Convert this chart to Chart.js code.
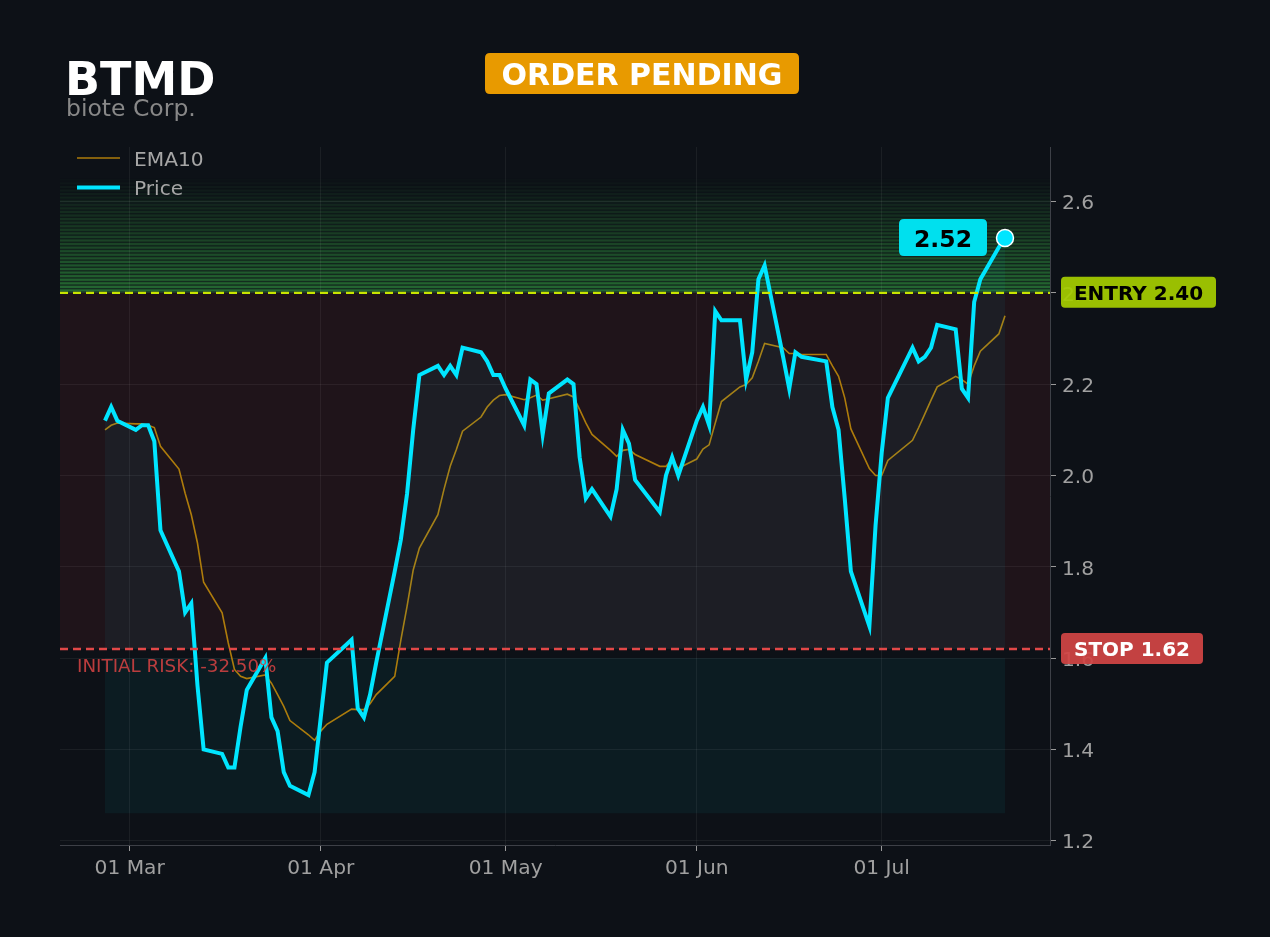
<!DOCTYPE html>
<html>

<head>
  <title>BTMD Setup</title>
  <script src="https://cdn.jsdelivr.net/npm/chart.js"></script>
  <style>
    body { margin: 0; background: #0d1117; }
    #box { width: 1270px; height: 937px; }
  </style>
</head>

<body>
  <div id="box"><canvas id="setupChart" width="1270" height="937"></canvas></div>

  <script>
    // trading days, 2026
    const dates = [
      '2026-02-25', '2026-02-26', '2026-02-27',
      '2026-03-02', '2026-03-03', '2026-03-04', '2026-03-05', '2026-03-06',
      '2026-03-09', '2026-03-10', '2026-03-11', '2026-03-12', '2026-03-13',
      '2026-03-16', '2026-03-17', '2026-03-18', '2026-03-19', '2026-03-20',
      '2026-03-23', '2026-03-24', '2026-03-25', '2026-03-26', '2026-03-27',
      '2026-03-30', '2026-03-31', '2026-04-01', '2026-04-02',
      '2026-04-06', '2026-04-07', '2026-04-08', '2026-04-09', '2026-04-10',
      '2026-04-13', '2026-04-14', '2026-04-15', '2026-04-16', '2026-04-17',
      '2026-04-20', '2026-04-21', '2026-04-22', '2026-04-23', '2026-04-24',
      '2026-04-27', '2026-04-28', '2026-04-29', '2026-04-30', '2026-05-01',
      '2026-05-04', '2026-05-05', '2026-05-06', '2026-05-07', '2026-05-08',
      '2026-05-11', '2026-05-12', '2026-05-13', '2026-05-14', '2026-05-15',
      '2026-05-18', '2026-05-19', '2026-05-20', '2026-05-21', '2026-05-22',
      '2026-05-26', '2026-05-27', '2026-05-28', '2026-05-29',
      '2026-06-01', '2026-06-02', '2026-06-03', '2026-06-04', '2026-06-05',
      '2026-06-08', '2026-06-09', '2026-06-10', '2026-06-11', '2026-06-12',
      '2026-06-15', '2026-06-16', '2026-06-17', '2026-06-18',
      '2026-06-22', '2026-06-23', '2026-06-24', '2026-06-25', '2026-06-26',
      '2026-06-29', '2026-06-30', '2026-07-01', '2026-07-02',
      '2026-07-06', '2026-07-07', '2026-07-08', '2026-07-09', '2026-07-10',
      '2026-07-13', '2026-07-14', '2026-07-15', '2026-07-16', '2026-07-17',
      '2026-07-20', '2026-07-21'
    ];

    const price = [
      2.12, 2.15, 2.12,
      2.10, 2.11, 2.11, 2.075, 1.88,
      1.79, 1.70, 1.72, 1.54, 1.40,
      1.39, 1.36, 1.36, 1.45, 1.53,
      1.60, 1.47, 1.44, 1.35, 1.32,
      1.30, 1.35, 1.47, 1.59,
      1.64, 1.49, 1.47, 1.52, 1.59,
      1.79, 1.86, 1.96, 2.10, 2.22,
      2.24, 2.22, 2.24, 2.22, 2.28,
      2.27, 2.25, 2.22, 2.22, 2.19,
      2.11, 2.21, 2.20, 2.09, 2.18,
      2.21, 2.20, 2.04, 1.95, 1.97,
      1.91, 1.97, 2.10, 2.07, 1.99,
      1.92, 2.00, 2.04, 2.00,
      2.12, 2.15, 2.11, 2.36, 2.34,
      2.34, 2.21, 2.27, 2.43, 2.46,
      2.26, 2.19, 2.27, 2.26,
      2.25, 2.15, 2.10, 1.95, 1.79,
      1.67, 1.89, 2.05, 2.17,
      2.28, 2.25, 2.26, 2.28, 2.33,
      2.32, 2.19, 2.17, 2.38, 2.43,
      2.50, 2.52
    ];

    const ema10 = [
      2.10, 2.11, 2.115,
      2.113, 2.113, 2.11, 2.105, 2.064,
      2.014, 1.961, 1.914, 1.852, 1.766,
      1.699, 1.633, 1.575, 1.56, 1.555,
      1.563, 1.545, 1.52, 1.494, 1.463,
      1.432, 1.42, 1.44, 1.455,
      1.488, 1.487, 1.487, 1.50, 1.52,
      1.56, 1.64, 1.713, 1.793, 1.841,
      1.914, 1.97, 2.02, 2.057, 2.097,
      2.128, 2.15, 2.165, 2.175, 2.177,
      2.166, 2.17, 2.176, 2.165, 2.168,
      2.178, 2.172, 2.144, 2.115, 2.09,
      2.055, 2.042, 2.055, 2.057, 2.046,
      2.02, 2.02, 2.035, 2.016,
      2.036, 2.058, 2.067, 2.115, 2.162,
      2.194, 2.199, 2.214, 2.25, 2.289,
      2.28, 2.267, 2.267, 2.265,
      2.265, 2.24, 2.217, 2.17, 2.102,
      2.015, 2.00, 2.00, 2.033,
      2.077, 2.105, 2.135, 2.165, 2.194,
      2.217, 2.21, 2.20, 2.24, 2.272,
      2.31, 2.35
    ];

    const monthTicks = ['2026-03-01', '2026-04-01', '2026-05-01', '2026-06-01', '2026-07-01'];
    const monthLabels = ['01 Mar', '01 Apr', '01 May', '01 Jun', '01 Jul'];
    const yTicks = [1.2, 1.4, 1.6, 1.8, 2.0, 2.2, 2.4, 2.6];

    const ENTRY = 2.40;
    const STOP = 1.62;
    const TARGET_TOP = 2.65;   // top of the green gradient
    const FLOOR = 1.26;        // bottom of the shaded boxes
    const RISK_TOP = 1.60;     // top of the teal box under the stop

    const BG = '#0d1117';
    const CYAN = '#00e5ff';
    const EMA_COLOR = 'rgba(190,135,10,0.9)';
    const FONT = '"DejaVu Sans", sans-serif';

    function dayNumber(s) {
      const p = s.split('-').map(Number);
      return (Date.UTC(p[0], p[1] - 1, p[2]) - Date.UTC(2026, 0, 1)) / 86400000;
    }

    const days = dates.map(dayNumber);
    const monthDays = monthTicks.map(dayNumber);
    const xPad = (days[days.length - 1] - days[0]) * 0.05;
    const yPad = (TARGET_TOP - FLOOR) * 0.05;

    function roundBox(ctx, x, y, w, h, r) {
      ctx.beginPath();
      ctx.moveTo(x + r, y);
      ctx.lineTo(x + w - r, y);
      ctx.quadraticCurveTo(x + w, y, x + w, y + r);
      ctx.lineTo(x + w, y + h - r);
      ctx.quadraticCurveTo(x + w, y + h, x + w - r, y + h);
      ctx.lineTo(x + r, y + h);
      ctx.quadraticCurveTo(x, y + h, x, y + h - r);
      ctx.lineTo(x, y + r);
      ctx.quadraticCurveTo(x, y, x + r, y);
      ctx.closePath();
    }

    const zones = {
      id: 'zones',
      beforeDraw(chart) {
        const ctx = chart.ctx;
        const { left, right } = chart.chartArea;
        const y = chart.scales.y, x = chart.scales.x;
        ctx.save();
        ctx.fillStyle = BG;
        ctx.fillRect(0, 0, chart.width, chart.height);

        // risk zone between stop and entry
        ctx.fillStyle = 'rgba(220,53,69,0.09)';
        ctx.fillRect(left, y.getPixelForValue(ENTRY), right - left,
          y.getPixelForValue(STOP) - y.getPixelForValue(ENTRY));

        // green gradient above entry
        const n = 32;
        const step = (TARGET_TOP - ENTRY) / n;
        for (let i = 0; i < n; i++) {
          const p0 = y.getPixelForValue(ENTRY + i * step);
          const p1 = y.getPixelForValue(ENTRY + (i + 1) * step);
          const k = 1 - i / n;
          ctx.fillStyle = `rgba(60,185,75,${0.52 * k})`;
          ctx.fillRect(left, p1, right - left, p0 - p1 - 1.3);
          ctx.fillStyle = `rgba(60,185,75,${0.18 * k})`;
          ctx.fillRect(left, p0 - 1.3, right - left, 1.3);
        }

        // teal box under the stop
        const bx0 = x.getPixelForValue(days[0]);
        const bx1 = x.getPixelForValue(days[days.length - 1]);
        ctx.fillStyle = 'rgba(0,229,255,0.05)';
        ctx.fillRect(bx0, y.getPixelForValue(RISK_TOP), bx1 - bx0,
          y.getPixelForValue(FLOOR) - y.getPixelForValue(RISK_TOP));
        ctx.restore();
      },
      afterDatasetsDraw(chart) {
        const ctx = chart.ctx;
        const { left, right } = chart.chartArea;
        const y = chart.scales.y;
        ctx.save();
        ctx.lineWidth = 2.4;
        ctx.setLineDash([8, 5]);
        ctx.strokeStyle = '#c8e600';
        ctx.beginPath();
        ctx.moveTo(left, y.getPixelForValue(ENTRY));
        ctx.lineTo(right, y.getPixelForValue(ENTRY));
        ctx.stroke();
        ctx.strokeStyle = '#e24848';
        ctx.beginPath();
        ctx.moveTo(left, y.getPixelForValue(STOP));
        ctx.lineTo(right, y.getPixelForValue(STOP));
        ctx.stroke();
        ctx.restore();
      },
      afterDraw(chart) {
        const ctx = chart.ctx;
        const { left, right } = chart.chartArea;
        const y = chart.scales.y, x = chart.scales.x;
        ctx.save();
        ctx.textBaseline = 'alphabetic';

        // header
        ctx.fillStyle = '#ffffff';
        ctx.font = 'bold 46px ' + FONT;
        ctx.textAlign = 'left';
        ctx.fillText('BTMD', 65, 95);
        ctx.fillStyle = '#888888';
        ctx.font = '23.5px ' + FONT;
        ctx.fillText('biote Corp.', 66, 116);

        // status badge
        ctx.fillStyle = '#e89a00';
        roundBox(ctx, 485, 53, 314, 41, 5);
        ctx.fill();
        ctx.fillStyle = '#ffffff';
        ctx.font = 'bold 30px ' + FONT;
        ctx.textAlign = 'center';
        ctx.fillText('ORDER PENDING', 642, 84.5);

        // legend
        ctx.textAlign = 'left';
        ctx.font = '20.2px ' + FONT;
        ctx.strokeStyle = EMA_COLOR;
        ctx.lineWidth = 1.5;
        ctx.beginPath();
        ctx.moveTo(left + 17, 158);
        ctx.lineTo(left + 60, 158);
        ctx.stroke();
        ctx.strokeStyle = CYAN;
        ctx.lineWidth = 4;
        ctx.beginPath();
        ctx.moveTo(left + 17, 187.5);
        ctx.lineTo(left + 60, 187.5);
        ctx.stroke();
        ctx.fillStyle = '#a6a6a6';
        ctx.fillText('EMA10', left + 74, 165.5);
        ctx.fillText('Price', left + 74, 194.5);

        // initial risk note
        const risk = (STOP - ENTRY) / ENTRY * 100;
        ctx.fillStyle = 'rgba(205,65,65,0.9)';
        ctx.font = '18.3px ' + FONT;
        ctx.fillText('INITIAL RISK: ' + risk.toFixed(2) + '%', left + 17, y.getPixelForValue(STOP) + 23);

        // entry / stop tags on the axis
        const ey = y.getPixelForValue(ENTRY);
        ctx.globalAlpha = 0.93;
        ctx.fillStyle = '#a6cc00';
        roundBox(ctx, right + 11, ey - 16, 155, 31, 4);
        ctx.fill();
        const sy = y.getPixelForValue(STOP);
        ctx.fillStyle = '#d24545';
        roundBox(ctx, right + 11, sy - 16, 142, 31, 4);
        ctx.fill();
        ctx.globalAlpha = 1;
        ctx.font = 'bold 20px ' + FONT;
        ctx.textAlign = 'center';
        ctx.fillStyle = '#000000';
        ctx.fillText('ENTRY ' + ENTRY.toFixed(2), right + 88.5, ey + 7);
        ctx.fillStyle = '#ffffff';
        ctx.fillText('STOP ' + STOP.toFixed(2), right + 82, sy + 7);

        // last price tag
        const last = price.length - 1;
        const px = x.getPixelForValue(days[last]);
        const py = y.getPixelForValue(price[last]);
        ctx.fillStyle = '#00e0ee';
        roundBox(ctx, px - 106, py - 19, 88, 37, 5);
        ctx.fill();
        ctx.fillStyle = '#000000';
        ctx.font = 'bold 23.5px ' + FONT;
        ctx.fillText(price[last].toFixed(2), px - 62, py + 8.5);
        ctx.restore();
      }
    };

    const ctx = document.getElementById('setupChart').getContext('2d');
    new Chart(ctx, {
      type: 'line',
      data: {
        datasets: [
          {
            label: 'Price',
            data: days.map((d, i) => ({ x: d, y: price[i] })),
            borderColor: CYAN,
            borderWidth: 4,
            tension: 0,
            order: 0,
            fill: { target: { value: STOP }, above: 'rgba(0,229,255,0.05)', below: 'rgba(0,0,0,0)' },
            pointRadius: c => (c.dataIndex === price.length - 1 ? 8.5 : 0),
            pointBackgroundColor: CYAN,
            pointBorderColor: '#ffffff',
            pointBorderWidth: 1.5
          },
          {
            label: 'EMA10',
            data: days.map((d, i) => ({ x: d, y: ema10[i] })),
            borderColor: EMA_COLOR,
            borderWidth: 1.6,
            tension: 0,
            order: 1,
            fill: false,
            pointRadius: 0
          }
        ]
      },
      options: {
        responsive: false,
        animation: false,
        events: [],
        layout: { padding: { left: 60, top: 147, right: 0, bottom: 0 } },
        plugins: { legend: { display: false }, tooltip: { enabled: false } },
        scales: {
          x: {
            type: 'linear',
            bounds: 'data',
            min: days[0] - xPad,
            max: days[days.length - 1] + xPad,
            afterBuildTicks: scale => { scale.ticks = monthDays.map(v => ({ value: v })); },
            afterFit: scale => { scale.height = 92; },
            ticks: {
              autoSkip: false,
              maxRotation: 0,
              padding: 6,
              color: '#a0a0a0',
              font: { family: FONT, size: 20.2 },
              callback: v => monthLabels[monthDays.indexOf(v)]
            },
            grid: { color: 'rgba(255,255,255,0.06)', tickColor: '#9a9a9a', tickLength: 6 },
            border: { display: true, color: '#3d4047' }
          },
          y: {
            position: 'right',
            bounds: 'data',
            min: FLOOR - yPad,
            max: TARGET_TOP + yPad,
            afterBuildTicks: scale => { scale.ticks = yTicks.map(v => ({ value: v })); },
            afterFit: scale => { scale.width = 220; },
            ticks: {
              padding: 6,
              labelOffset: 2.5,
              color: '#a0a0a0',
              font: { family: FONT, size: 20.2 },
              callback: v => v.toFixed(1)
            },
            grid: { color: 'rgba(255,255,255,0.06)', tickColor: '#9a9a9a', tickLength: 6 },
            border: { display: true, color: '#3d4047' }
          }
        }
      },
      plugins: [zones]
    });
  </script>
</body>

</html>
